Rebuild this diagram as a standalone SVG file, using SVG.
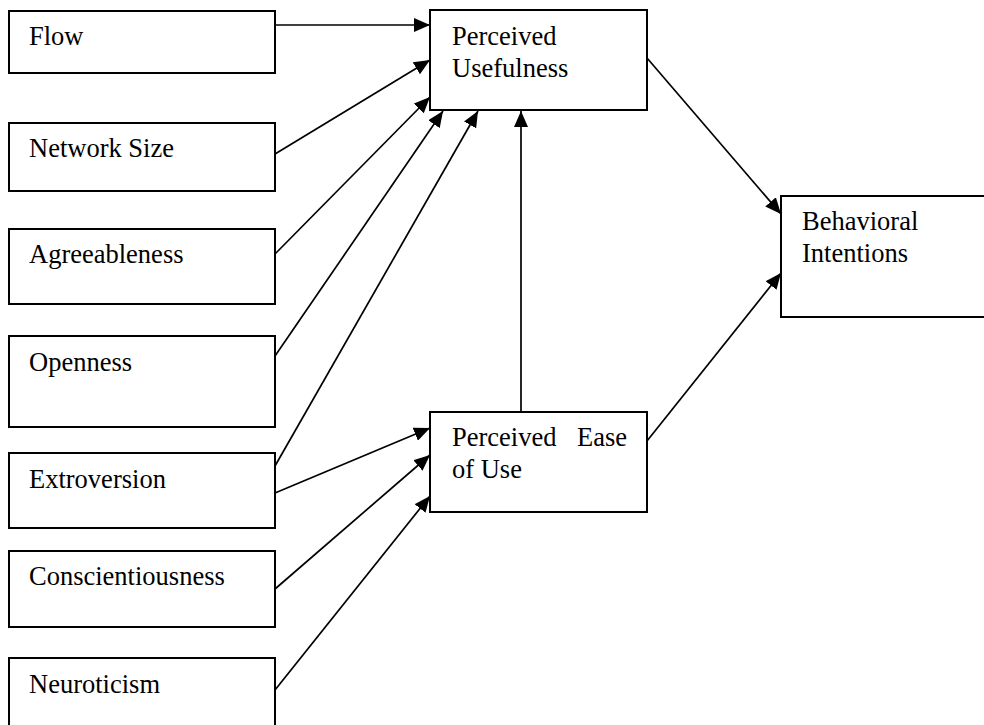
<svg xmlns="http://www.w3.org/2000/svg" width="984" height="725" viewBox="0 0 984 725">
<style>
.box{fill:#fff;stroke:#000;stroke-width:2}
.lbl{font-family:"Liberation Serif","Times New Roman",serif;font-size:26.5px;fill:#000}
.conn line{stroke:#000;stroke-width:1.7}
</style>
<defs>
<marker id="ah" markerUnits="userSpaceOnUse" markerWidth="18" markerHeight="14" refX="16" refY="7" orient="auto">
<path d="M0,0 L16,7 L0,14 Z" fill="#000"/>
</marker>
</defs>
<rect width="984" height="725" fill="#fff"/>
<g id="flow"><rect class="box" x="9" y="11" width="266" height="62"/><text class="lbl" x="29" y="45">Flow</text></g>
<g id="network-size"><rect class="box" x="9" y="123" width="266" height="68"/><text class="lbl" x="29" y="157">Network Size</text></g>
<g id="agreeableness"><rect class="box" x="9" y="229" width="266" height="75"/><text class="lbl" x="29" y="263">Agreeableness</text></g>
<g id="openness"><rect class="box" x="9" y="336" width="266" height="91"/><text class="lbl" x="29" y="371">Openness</text></g>
<g id="extroversion"><rect class="box" x="9" y="453" width="266" height="75"/><text class="lbl" x="29" y="488">Extroversion</text></g>
<g id="conscientiousness"><rect class="box" x="9" y="551" width="266" height="76"/><text class="lbl" x="29" y="585">Conscientiousness</text></g>
<g id="neuroticism"><rect class="box" x="9" y="658" width="266" height="72"/><text class="lbl" x="29" y="693">Neuroticism</text></g>
<g id="perceived-usefulness"><rect class="box" x="430" y="10" width="217" height="100"/><text class="lbl" x="452" y="45">Perceived</text><text class="lbl" x="452" y="77">Usefulness</text></g>
<g id="perceived-ease-of-use"><rect class="box" x="430" y="412" width="217" height="100"/><text class="lbl" x="452" y="446">Perceived</text><text class="lbl" x="577" y="446">Ease</text><text class="lbl" x="452" y="478">of Use</text></g>
<g id="behavioral-intentions"><rect class="box" x="781" y="196" width="215" height="121"/><text class="lbl" x="802" y="230">Behavioral</text><text class="lbl" x="802" y="262">Intentions</text></g>
<g class="conn" id="connectors">
<line x1="275" y1="25" x2="430" y2="25" marker-end="url(#ah)"/>
<line x1="275" y1="154" x2="430" y2="60" marker-end="url(#ah)"/>
<line x1="275" y1="254" x2="430" y2="97" marker-end="url(#ah)"/>
<line x1="275" y1="356" x2="443" y2="111" marker-end="url(#ah)"/>
<line x1="275" y1="466" x2="478" y2="111" marker-end="url(#ah)"/>
<line x1="521" y1="412" x2="521" y2="111" marker-end="url(#ah)"/>
<line x1="647" y1="58" x2="781" y2="214" marker-end="url(#ah)"/>
<line x1="647" y1="441" x2="781" y2="273" marker-end="url(#ah)"/>
<line x1="275" y1="493" x2="430" y2="428" marker-end="url(#ah)"/>
<line x1="275" y1="589" x2="430" y2="455" marker-end="url(#ah)"/>
<line x1="275" y1="690" x2="430" y2="496" marker-end="url(#ah)"/>
</g>
</svg>
